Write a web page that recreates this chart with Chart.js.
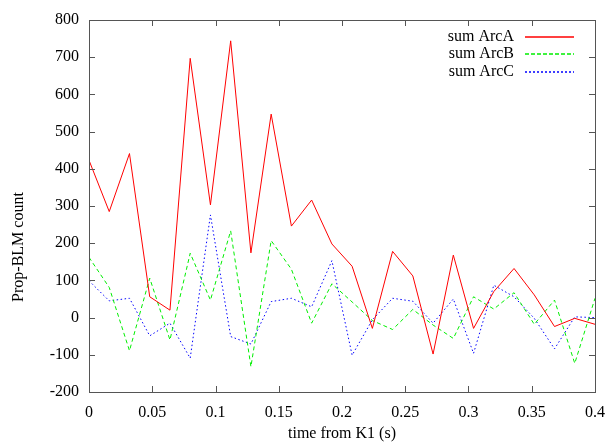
<!DOCTYPE html>
<html>
<head>
<meta charset="utf-8">
<script src="https://cdn.jsdelivr.net/npm/chart.js@4/dist/chart.umd.min.js"></script>
<style>
html,body{margin:0;padding:0;background:#fff;}
#wrap{width:607px;height:444px;position:relative;}
</style>
</head>
<body>
<div id="wrap"><canvas id="c" width="607" height="444"></canvas></div>
<script>
const times = [0, 0.016, 0.032, 0.048, 0.064, 0.08, 0.096, 0.112, 0.128, 0.144, 0.16, 0.176, 0.192, 0.208, 0.224, 0.24, 0.256, 0.272, 0.288, 0.304, 0.32, 0.336, 0.352, 0.368, 0.384, 0.4];
const arcA = [423, 285, 441, 56, 20, 697, 303, 744, 174, 547, 246, 316, 198, 138, -29, 178, 112, -98, 168, -29, 70, 132, 61, -24, -2, -18];
const arcB = [162, 81, -89, 106, -60, 173, 47, 233, -132, 207, 130, -15, 91, 42, -8, -32, 22, -20, -56, 56, 23, 67, -18, 47, -123, 52];
const arcC = [99, 45, 52, -49, -15, -109, 276, -51, -71, 43, 52, 29, 153, -101, -6, 52, 44, -15, 50, -96, 87, 56, -2, -84, 2, 0];
const seriesNames = ['sum ArcA', 'sum ArcB', 'sum ArcC'];
const xTicks = [0, 0.05, 0.1, 0.15, 0.2, 0.25, 0.3, 0.35, 0.4];
const xTitle = 'time from K1 (s)';
const yTitle = 'Prop-BLM count';

const FONT = '"Liberation Serif", "DejaVu Serif", serif';
const colors = ['#ff0000', '#00ee00', '#0000ff'];
const dashes = [[], [4, 3], [1.5, 2.5]];
// legend sample segments: [on, off] pixel patterns
const legendPatterns = [[49, 0], [4, 2], [2, 2]];

function pts(vals){ return vals.map((v,i)=>({x:times[i], y:v})); }

const framePlugin = {
  id: 'frame',
  afterDraw(chart){
    const {ctx, chartArea:a, scales} = chart;
    ctx.save();
    ctx.setLineDash([]);
    ctx.strokeStyle = '#555';
    ctx.lineWidth = 1;
    ctx.strokeRect(a.left+0.5, a.top+0.5, a.right-a.left, a.bottom-a.top);
    const tl = 6;
    ctx.beginPath();
    scales.x.ticks.forEach(t=>{
      const px = Math.round(scales.x.getPixelForValue(t.value))+0.5;
      ctx.moveTo(px, a.bottom); ctx.lineTo(px, a.bottom-tl);
      ctx.moveTo(px, a.top); ctx.lineTo(px, a.top+tl);
    });
    scales.y.ticks.forEach(t=>{
      const py = Math.round(scales.y.getPixelForValue(t.value))+0.5;
      ctx.moveTo(a.left, py); ctx.lineTo(a.left+tl, py);
      ctx.moveTo(a.right, py); ctx.lineTo(a.right-tl, py);
    });
    ctx.stroke();
    // titles
    ctx.fillStyle = '#000';
    ctx.font = '16px ' + FONT;
    ctx.textAlign = 'center';
    ctx.textBaseline = 'middle';
    ctx.fillText(xTitle, (a.left+a.right)/2, 434);
    ctx.save();
    ctx.translate(19, 247);
    ctx.rotate(-Math.PI/2);
    ctx.fillText(yTitle, 0, 0);
    ctx.restore();
    // legend
    const rows = [37, 54, 72];
    ctx.textAlign = 'right';
    seriesNames.forEach((name, i)=>{
      ctx.fillStyle = '#000';
      ctx.fillText(name, 514, rows[i]);
      ctx.strokeStyle = colors[i];
      ctx.lineWidth = 1.3;
      const [on, off] = legendPatterns[i];
      ctx.beginPath();
      for (let x = 525; x < 574; x += on + off) {
        ctx.moveTo(x, rows[i]);
        ctx.lineTo(Math.min(x + on, 574), rows[i]);
      }
      ctx.stroke();
    });
    ctx.restore();
  }
};

const datasets = [arcA, arcB, arcC].map((vals, i)=>({
  label: seriesNames[i],
  data: pts(vals),
  borderColor: colors[i],
  borderWidth: 1,
  borderDash: dashes[i],
  pointRadius: 0,
  fill: false,
  tension: 0
}));

new Chart(document.getElementById('c'), {
  type: 'line',
  data: { datasets },
  options: {
    responsive: false,
    animation: false,
    devicePixelRatio: 1,
    layout: { padding: { top: 20, right: 12, left: 0, bottom: 0 } },
    plugins: { legend: { display: false }, tooltip: { enabled: false } },
    scales: {
      x: {
        type: 'linear', min: 0, max: 0.4,
        afterBuildTicks(s){ s.ticks = xTicks.map(v=>({value:v})); },
        afterFit(s){ s.height = 52; s.paddingLeft = 0; s.paddingRight = 0; },
        grid: { display: false, drawTicks: false },
        border: { display: false },
        ticks: {
          color: '#000', padding: 11,
          font: { family: FONT, size: 16 },
          callback: v => String(Number(v.toFixed(2)))
        }
      },
      y: {
        type: 'linear', min: -200, max: 800,
        ticks: { stepSize: 100, color: '#000', padding: 10, font: { family: FONT, size: 16 } },
        afterFit(s){ s.width = 89; s.paddingTop = 0; s.paddingBottom = 0; },
        grid: { display: false, drawTicks: false },
        border: { display: false }
      }
    }
  },
  plugins: [framePlugin]
});
</script>
</body>
</html>
